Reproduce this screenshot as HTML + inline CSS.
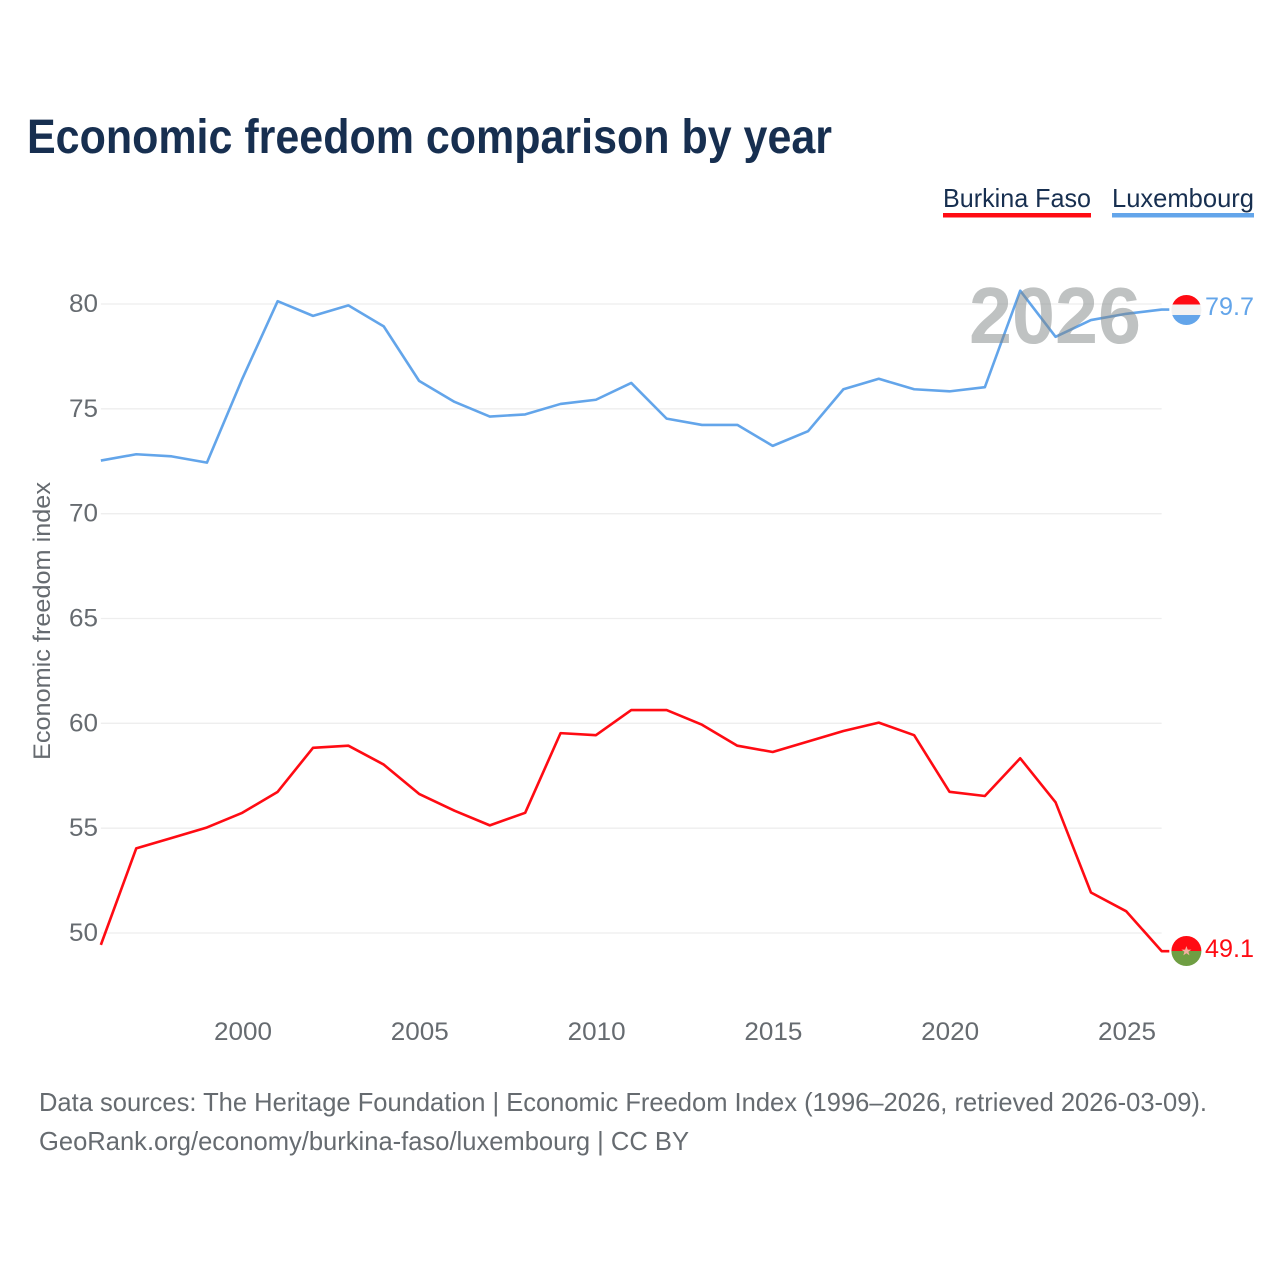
<!DOCTYPE html>
<html lang="en">
<head>
<meta charset="utf-8">
<title>Economic freedom comparison by year</title>
<style>
html,body{margin:0;padding:0;background:#fff;}
svg{display:block;font-family:"Liberation Sans",Arial,sans-serif;}
</style>
</head>
<body>
<svg id="chart" xmlns="http://www.w3.org/2000/svg" width="1280" height="1280" viewBox="0 0 1280 1280">
  <rect width="1280" height="1280" fill="#fff"/>
  <text x="27" y="153" font-size="48" font-weight="700" fill="#172f50" textLength="805" lengthAdjust="spacingAndGlyphs">Economic freedom comparison by year</text>

  <g>
    <g>
      <text x="943" y="207" font-size="26" fill="#172f50" textLength="148" lengthAdjust="spacingAndGlyphs">Burkina Faso</text>
      <rect x="943" y="213" width="148" height="4.5" fill="#ff0b13"/>
    </g>
    <g>
      <text x="1112" y="207" font-size="26" fill="#172f50" textLength="142" lengthAdjust="spacingAndGlyphs">Luxembourg</text>
      <rect x="1112" y="213" width="142" height="4.5" fill="#63a5ea"/>
    </g>
  </g>

  <g id="grid"></g>
  <g id="yticks"></g>
  <g id="xticks"></g>
  <text transform="translate(50,760) rotate(-90)" font-size="24" fill="#666b70" textLength="278" lengthAdjust="spacingAndGlyphs">Economic freedom index</text>

  <g id="series" transform="translate(-0.7,-0.7)"></g>

  <defs>
    <clipPath id="flag-lux-clip"><circle cx="1186.4" cy="310" r="15"/></clipPath>
    <clipPath id="flag-bf-clip"><circle cx="1186.4" cy="951" r="15"/></clipPath>
  </defs>
  <g clip-path="url(#flag-lux-clip)">
    <rect x="1171" y="295" width="31" height="9.5" fill="#ff0b13"/>
    <rect x="1171" y="304.5" width="31" height="10.5" fill="#f2f2f2"/>
    <rect x="1171" y="315" width="31" height="10" fill="#63a5ea"/>
  </g>
  <text id="label-lux" x="1205" y="315" font-size="25" fill="#63a5ea" textLength="49" lengthAdjust="spacingAndGlyphs">79.7</text>
  <g clip-path="url(#flag-bf-clip)">
    <rect x="1171" y="936" width="31" height="15" fill="#ff0b13"/>
    <rect x="1171" y="951" width="31" height="15" fill="#6f9e43"/>
    <polygon points="1186.4,946 1187.7,949.6 1191.4,949.6 1188.4,951.8 1189.5,955.4 1186.4,953.2 1183.3,955.4 1184.4,951.8 1181.4,949.6 1185.1,949.6" fill="#f4b0a0"/>
  </g>
  <text id="label-bf" x="1205" y="957" font-size="25" fill="#ff0b13" textLength="49" lengthAdjust="spacingAndGlyphs">49.1</text>

  <text x="969" y="343" font-size="80" font-weight="700" fill="#7f8585" fill-opacity="0.5" textLength="172" lengthAdjust="spacingAndGlyphs">2026</text>

  <g>
    <text x="39" y="1111" font-size="26" fill="#666b70" textLength="1168" lengthAdjust="spacingAndGlyphs">Data sources: The Heritage Foundation | Economic Freedom Index (1996–2026, retrieved 2026-03-09).</text>
    <text x="39" y="1150" font-size="26" fill="#666b70" textLength="650" lengthAdjust="spacingAndGlyphs">GeoRank.org/economy/burkina-faso/luxembourg | CC BY</text>
  </g>
</svg>
<script>
const years = [1996,1997,1998,1999,2000,2001,2002,2003,2004,2005,2006,2007,2008,2009,2010,2011,2012,2013,2014,2015,2016,2017,2018,2019,2020,2021,2022,2023,2024,2025,2026];
const luxembourg = [72.5,72.8,72.7,72.4,76.4,80.1,79.4,79.9,78.9,76.3,75.3,74.6,74.7,75.2,75.4,76.2,74.5,74.2,74.2,73.2,73.9,75.9,76.4,75.9,75.8,76.0,80.6,78.4,79.2,79.5,79.7];
const burkinaFaso = [49.4,54.0,54.5,55.0,55.7,56.7,58.8,58.9,58.0,56.6,55.8,55.1,55.7,59.5,59.4,60.6,60.6,59.9,58.9,58.6,59.1,59.6,60.0,59.4,56.7,56.5,58.3,56.2,51.9,51.0,49.1];
const yTickValues = [50,55,60,65,70,75,80];
const xTickValues = [2000,2005,2010,2015,2020,2025];

const NS = 'http://www.w3.org/2000/svg';
function xScale(year){ return 243 + (year - 2000) * (1127 - 243) / 25; }
function yScale(value){ return 933 + (value - 50) * (304 - 933) / 30; }
function make(tag, attrs, parent){
  const el = document.createElementNS(NS, tag);
  for (const k in attrs) el.setAttribute(k, attrs[k]);
  parent.appendChild(el);
  return el;
}

const grid = document.getElementById('grid');
const yticks = document.getElementById('yticks');
const xticks = document.getElementById('xticks');
const seriesGroup = document.getElementById('series');

yTickValues.forEach(function(v){
  const line = make('line', {x1: xScale(1996) - 0.7, x2: xScale(2026) - 0.7, y1: yScale(v), y2: yScale(v), stroke: '#eeeeee', 'stroke-width': 1.3}, grid);
  
  
  const label = make('text', {x: 98, y: yScale(v) + 8, 'text-anchor': 'end', 'font-size': 25, fill: '#666b70', textLength: 29, lengthAdjust: 'spacingAndGlyphs'}, yticks);
  label.textContent = String(v);
  
  
});

xTickValues.forEach(function(v){
  const label = make('text', {x: xScale(v) - 29, y: 1040, 'font-size': 25, fill: '#666b70', textLength: 58, lengthAdjust: 'spacingAndGlyphs'}, xticks);
  label.textContent = String(v);
  
  
});

function pathFor(values){
  const pts = values.map(function(v, i){ return xScale(years[i]).toFixed(2) + ',' + yScale(v).toFixed(2); });
  const last = values[values.length - 1];
  pts.push('1170,' + yScale(last).toFixed(2));
  return 'M' + pts.join('L');
}

const lineLux = make('path', {d: pathFor(luxembourg), fill: 'none', stroke: '#63a5ea', 'stroke-width': 2.6, 'stroke-linejoin': 'round'}, seriesGroup);



const lineBf = make('path', {d: pathFor(burkinaFaso), fill: 'none', stroke: '#ff0b13', 'stroke-width': 2.6, 'stroke-linejoin': 'round'}, seriesGroup);



document.getElementById('label-lux').textContent = luxembourg[luxembourg.length - 1].toFixed(1);
document.getElementById('label-bf').textContent = burkinaFaso[burkinaFaso.length - 1].toFixed(1);
</script>
</body>
</html>
